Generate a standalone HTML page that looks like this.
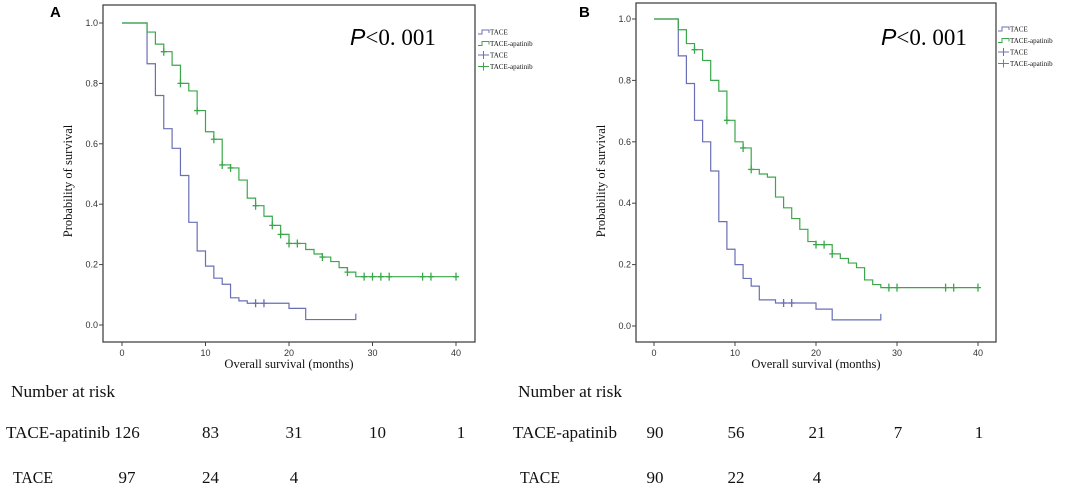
<!DOCTYPE html>
<html><head><meta charset="utf-8"><style>
body{margin:0;background:#fff;width:1067px;height:492px;overflow:hidden}
svg{position:absolute;left:0;top:0}
.tk{font:9px "Liberation Sans",sans-serif;fill:#333}
.ser{font-family:"Liberation Serif",serif;fill:#111}
</style></head><body>
<svg id="c" width="1067" height="492"></svg>
<script>
const xTicks=[0,10,20,30,40];
const yTicks=[0,0.2,0.4,0.6,0.8,1.0];
const aTaceT=[3,4,5,6,7,8,9,10,11,12,13,14,15,20,22];
const aTaceS=[0.865,0.76,0.65,0.585,0.495,0.34,0.245,0.195,0.155,0.135,0.09,0.08,0.072,0.055,0.018];
const aTaceEnd=28;
const aTaceCens=[16,17];
const aApaT=[3,4,5,6,7,8,9,10,11,12,13,14,15,16,17,18,19,20,22,23,24,25,26,27,28];
const aApaS=[0.97,0.93,0.905,0.86,0.80,0.775,0.71,0.64,0.615,0.53,0.52,0.48,0.42,0.395,0.36,0.33,0.30,0.27,0.25,0.235,0.225,0.21,0.19,0.175,0.16];
const aApaEnd=40;
const aApaCens=[5,7,9,11,12,13,16,18,19,20,21,24,27,29,30,31,32,36,37,40];
const bTaceT=[3,4,5,6,7,8,9,10,11,12,13,15,20,22];
const bTaceS=[0.88,0.79,0.67,0.60,0.505,0.34,0.25,0.20,0.155,0.13,0.085,0.075,0.055,0.02];
const bTaceEnd=28;
const bTaceCens=[16,17];
const bApaT=[3,4,5,6,7,8,9,10,11,12,13,14,15,16,17,18,19,20,22,23,24,25,26,27,28];
const bApaS=[0.965,0.92,0.90,0.865,0.80,0.765,0.67,0.60,0.58,0.51,0.495,0.485,0.42,0.385,0.35,0.315,0.275,0.265,0.235,0.22,0.205,0.19,0.15,0.135,0.125];
const bApaEnd=40;
const bApaCens=[5,9,11,12,20,21,22,29,30,36,37,40];
const riskTimes=[0,10,20,30,40];
const aRiskApa=[126,83,31,10,1];
const aRiskTace=[97,24,4];
const bRiskApa=[90,56,21,7,1];
const bRiskTace=[90,22,4];

const svg=document.getElementById('c');const NS='http://www.w3.org/2000/svg';
function el(t,a,txt){const e=document.createElementNS(NS,t);for(const k in a)e.setAttribute(k,a[k]);if(txt!==undefined)e.textContent=txt;svg.appendChild(e);return e;}
function stepFn(ts,ss){return t=>{let s=1;for(let i=0;i<ts.length;i++)if(ts[i]<=t)s=ss[i];return s;};}
function panel(p){
  const X=v=>p.x0+(p.x1-p.x0)*v/40, Y=v=>p.y0+(p.y1-p.y0)*v;
  let f=el('rect',{x:p.fx,y:p.fy,width:p.fw,height:p.fh,fill:'none',stroke:'#444','stroke-width':1.3});
  
  let lt=el('text',{x:p.lx,y:17,style:'font:bold 15px "Liberation Sans",sans-serif'},p.label);
  
  xTicks.forEach(v=>{el('line',{x1:X(v),x2:X(v),y1:p.fy+p.fh,y2:p.fy+p.fh+4,stroke:'#444'});
    let l=el('text',{x:X(v),y:p.fy+p.fh+14,class:'tk','text-anchor':'middle'},v);
    });
  yTicks.forEach(v=>{el('line',{x1:p.fx-4,x2:p.fx,y1:Y(v),y2:Y(v),stroke:'#444'});
    let l=el('text',{x:p.fx-5,y:Y(v)+3,class:'tk','text-anchor':'end'},v.toFixed(1));
    });
  let xt=el('text',{x:(p.fx+p.fx+p.fw)/2,y:p.fy+p.fh+26,class:'ser','font-size':12.5,'text-anchor':'middle'},'Overall survival (months)');
  
  let yt=el('text',{x:0,y:0,class:'ser','font-size':12.5,'text-anchor':'middle',transform:`translate(${p.fx-31},${(p.fy+p.fh)/2+10}) rotate(-90)`},'Probability of survival');
  
  let pv=el('text',{x:p.px,y:45,'font-size':23,style:'font-family:"Liberation Sans",sans-serif'});
  pv.innerHTML='<tspan font-style="italic">P</tspan><tspan font-family="Liberation Serif">&lt;0. 001</tspan>';
  
  function curve(ts,ss,end,cens,col,nm){
    let d=`M${X(0)},${Y(1)}`,s=1;
    ts.forEach((t,i)=>{d+=`H${X(t)}V${Y(ss[i])}`;s=ss[i];});
    d+=`H${X(end)}`; if(end<40)d+=`V${Y(s)-6}`;
    let pa=el('path',{d:d,fill:'none',stroke:col,'stroke-width':1.2});
    
    const sf=stepFn(ts,ss);
    cens.forEach(c=>{let m=el('path',{d:`M${X(c)-3},${Y(sf(c))}h6M${X(c)},${Y(sf(c))-4}v8`,stroke:col,'stroke-width':1.3});
      });
  }
  curve(p.tT,p.tS,p.tE,p.tC,'#6a6fb5',p.id+'-tace');
  curve(p.aT,p.aS,p.aE,p.aC,'#3aa84a',p.id+'-tace-apatinib');
  const lg=[['TACE','#6a6fb5',0],['TACE-apatinib','#3aa84a',0],['TACE','#6a6fb5',1],['TACE-apatinib','#3aa84a',1]];
  lg.forEach((g,i)=>{const y=p.legy+i*11.5;
    if(g[2])el('path',{d:`M${p.legx},${y}h11M${p.legx+5.5},${y-4}v8`,stroke:g[1],'stroke-width':1});
    else el('path',{d:`M${p.legx},${y+2}h4v-4h7v3`,stroke:g[1],fill:'none','stroke-width':1});
    let t=el('text',{x:p.legx+12,y:y+2.5,class:'ser','font-size':7},g[0]);
    });
  let nr=el('text',{x:p.rx+5,y:397,class:'ser','font-size':17,textLength:104,lengthAdjust:'spacingAndGlyphs'},'Number at risk');
  
  [['TACE-apatinib',p.rA,438,0,104],['TACE',p.rT,483,7,40]].forEach(r=>{
    let t=el('text',{x:p.rx+r[3],y:r[2],class:'ser','font-size':17,textLength:r[4],lengthAdjust:'spacingAndGlyphs'},r[0]);
    
    r[1].forEach((n,i)=>{let c=el('text',{x:X(riskTimes[i])+p.rOff,y:r[2],class:'ser','font-size':17,'text-anchor':'middle'},n);
      });});
}
panel({id:'panel-a',label:'A',lx:50,x0:122,x1:456,y0:325,y1:23,fx:103,fy:5,fw:372,fh:337,px:350,legx:478,legy:32,
  tT:aTaceT,tS:aTaceS,tE:aTaceEnd,tC:aTaceCens,aT:aApaT,aS:aApaS,aE:aApaEnd,aC:aApaCens,rx:6,rA:aRiskApa,rT:aRiskTace,rOff:5});
panel({id:'panel-b',label:'B',lx:579,x0:654,x1:978,y0:326,y1:19,fx:636,fy:3,fw:360,fh:339,px:881,legx:998,legy:29,
  tT:bTaceT,tS:bTaceS,tE:bTaceEnd,tC:bTaceCens,aT:bApaT,aS:bApaS,aE:bApaEnd,aC:bApaCens,rx:513,rA:bRiskApa,rT:bRiskTace,rOff:1});
</script>
</body></html>
